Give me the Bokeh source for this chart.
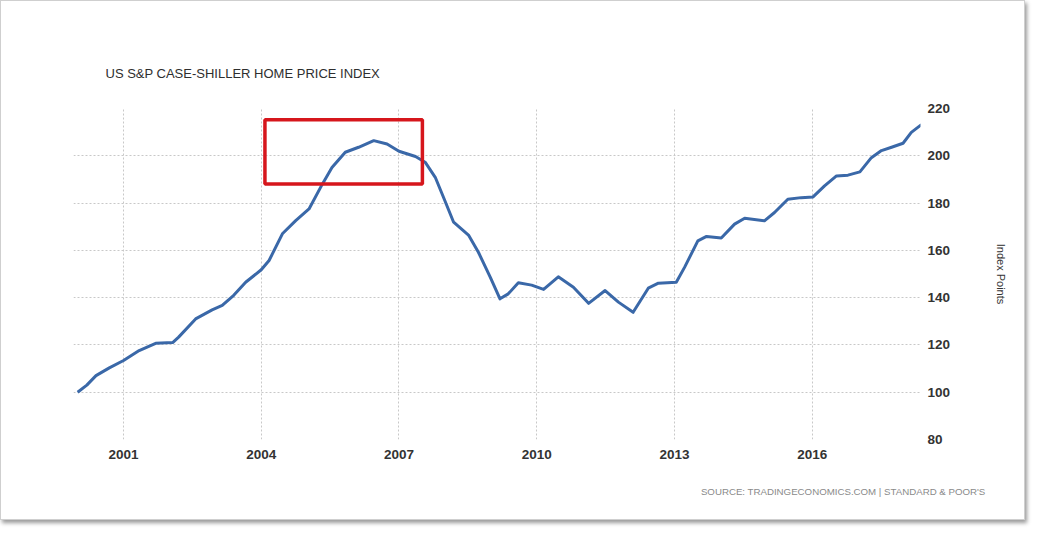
from bokeh.plotting import figure
from bokeh.models import Range1d, FixedTicker, BoxAnnotation, Title, ColumnDataSource
from bokeh.embed import file_html
from bokeh.resources import INLINE

# --- data ---
years = [2000.00, 2000.20, 2000.40, 2000.69, 2001.00, 2001.34, 2001.70, 2002.07, 2002.20,
         2002.57, 2002.93, 2003.15, 2003.40, 2003.66, 2004.00, 2004.17, 2004.46, 2004.75,
         2005.04, 2005.33, 2005.54, 2005.83, 2006.12, 2006.45, 2006.74, 2007.00, 2007.36,
         2007.57, 2007.79, 2008.00, 2008.19, 2008.52, 2008.73, 2008.99, 2009.20, 2009.38,
         2009.60, 2009.89, 2010.15, 2010.47, 2010.80, 2011.13, 2011.49, 2011.78, 2012.10,
         2012.43, 2012.65, 2013.04, 2013.22, 2013.51, 2013.70, 2014.02, 2014.31, 2014.53,
         2014.96, 2015.18, 2015.47, 2015.76, 2016.02, 2016.27, 2016.53, 2016.78, 2017.04,
         2017.29, 2017.51, 2017.73, 2017.98, 2018.16, 2018.38]
index_points = [100.0, 103.0, 107.0, 110.3, 113.4, 117.6, 120.7, 121.0, 123.3,
                131.0, 134.8, 136.7, 141.0, 146.5, 151.8, 155.7, 167.0, 172.6,
                177.5, 188.0, 195.0, 201.5, 203.6, 206.4, 205.0, 201.9, 199.7,
                197.3, 190.9, 181.0, 171.9, 166.3, 159.2, 148.6, 139.5, 141.6,
                146.3, 145.3, 143.5, 148.8, 144.4, 137.6, 143.0, 138.1, 133.8,
                144.0, 146.1, 146.5, 152.8, 164.0, 165.9, 165.2, 171.1, 173.6,
                172.5, 176.0, 181.6, 182.3, 182.6, 187.3, 191.5, 191.8, 193.2,
                199.2, 202.2, 203.6, 205.3, 209.9, 213.2]
x_ticks = [2001, 2004, 2007, 2010, 2013, 2016]
y_ticks = [80, 100, 120, 140, 160, 180, 200, 220]
highlight_years = [2004.08, 2007.51]
highlight_values = [188.1, 215.2]

title_text = "US S&P CASE-SHILLER HOME PRICE INDEX"
source_text = "SOURCE: TRADINGECONOMICS.COM | STANDARD & POOR'S"

p = figure(width=1025, height=520, output_backend="svg", toolbar_location=None,
           x_range=Range1d(1999.91, 2018.36), y_range=Range1d(80, 220),
           y_axis_location="right",
           min_border_left=72, min_border_right=106, min_border_top=107, min_border_bottom=82,
           background_fill_color="white", border_fill_color="white",
           styles={"border": "1px solid #cfcfcf", "box-shadow": "2px 3px 4px #9a9a9a"})

p.outline_line_color = None

p.title.text = title_text
p.title.text_font = "Liberation Sans"
p.title.text_font_size = "13px"
p.title.text_font_style = "normal"
p.title.text_color = "#2e2e2e"
p.title.align = "left"
p.title.offset = 32
p.title.standoff = 56

src = ColumnDataSource(data=dict(x=years, y=index_points))
p.line("x", "y", source=src, line_color="#3a68a8", line_width=3, line_join="round")

box = BoxAnnotation(left=highlight_years[0], right=highlight_years[1],
                    bottom=highlight_values[0], top=highlight_values[1],
                    fill_alpha=0, line_color="#d6161c", line_alpha=1.0, line_width=3.5)
p.add_layout(box)

for ax in (p.xaxis[0], p.yaxis[0]):
    ax.axis_line_color = None
    ax.major_tick_line_color = None
    ax.minor_tick_line_color = None
    ax.major_label_text_font = "Liberation Sans"
    ax.major_label_text_font_style = "bold"
    ax.major_label_text_font_size = "13.5px"
    ax.major_label_text_color = "#333333"

p.xaxis.ticker = FixedTicker(ticks=x_ticks)
p.yaxis.ticker = FixedTicker(ticks=y_ticks)
p.xaxis.major_label_standoff = 4
p.yaxis.major_label_standoff = 1

p.yaxis.axis_label = "Index Points"
p.yaxis.axis_label_text_font = "Liberation Sans"
p.yaxis.axis_label_text_font_style = "normal"
p.yaxis.axis_label_text_font_size = "11px"
p.yaxis.axis_label_text_color = "#333333"
p.yaxis.axis_label_standoff = 42

for g in (p.xgrid[0], p.ygrid[0]):
    g.grid_line_color = "#c8c8c8"
    g.grid_line_dash = "2 2"
    g.grid_line_width = 1

src_title = Title(text=source_text, align="right", offset=-65, standoff=45,
                  text_font="Liberation Sans", text_font_size="9.7px",
                  text_font_style="normal", text_color="#8a8a8a")
p.add_layout(src_title, "below")

open("out.html", "w").write(file_html(p, INLINE))
